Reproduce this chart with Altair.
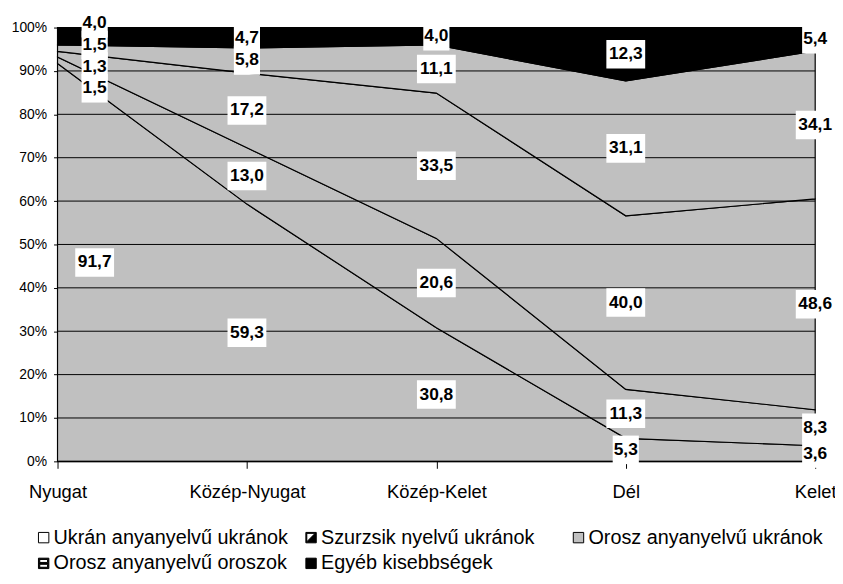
import altair as alt
import pandas as pd

# ---- data ----
regions = ["Nyugat", "Közép-Nyugat", "Közép-Kelet", "Dél", "Kelet"]
series = [
    "Ukrán anyanyelvű ukránok",
    "Szurzsik nyelvű ukránok",
    "Orosz anyanyelvű ukránok",
    "Orosz anyanyelvű oroszok",
    "Egyéb kisebbségek",
]
ukr_ukr = [91.7, 59.3, 30.8, 5.3, 3.6]
szurzsik = [1.5, 13.0, 20.6, 11.3, 8.3]
orosz_ukr = [1.3, 17.2, 33.5, 40.0, 48.6]
orosz_orosz = [1.5, 5.8, 11.1, 31.1, 34.1]
egyeb = [4.0, 4.7, 4.0, 12.3, 5.4]
y_ticks = [0, 10, 20, 30, 40, 50, 60, 70, 80, 90, 100]

values = [ukr_ukr, szurzsik, orosz_ukr, orosz_orosz, egyeb]

# ---- styles ----
FONT = "Liberation Sans"
area_colors = ["#C0C0C0", "#C0C0C0", "#C0C0C0", "#C0C0C0", "#000000"]
legend_fills = ["white", "black", "#C0C0C0", "black", "black"]
legend_strokes = ["black", "black", "black", "black", "black"]
SQ = "M-1,-1L1,-1L1,1L-1,1Z"
legend_paths = [
    SQ,
    SQ + "M-0.82,-0.82L-0.82,0.78L0.78,-0.82Z",
    SQ,
    SQ + "M-0.75,-0.75L-0.75,-0.18L0.75,-0.18L0.75,-0.75Z" + "M-0.75,0.18L-0.75,0.75L0.75,0.75L0.75,0.18Z",
    SQ,
]


def spread(mids, gap, top):
    """Push overlapping label positions apart (keeps cluster centred)."""
    order = sorted(range(len(mids)), key=lambda i: mids[i])

    def layout(cl):
        c = sum(mids[i] for i in cl) / len(cl)
        n = len(cl)
        pos = [c + (k - (n - 1) / 2) * gap for k in range(n)]
        over = pos[-1] - top
        if over > 0:
            pos = [p - over for p in pos]
        return pos

    clusters = [[i] for i in order]
    merged = True
    while merged:
        merged = False
        for j in range(len(clusters) - 1):
            a, b = layout(clusters[j]), layout(clusters[j + 1])
            if b[0] - a[-1] < gap - 1e-9:
                clusters[j] = clusters[j] + clusters[j + 1]
                del clusters[j + 1]
                merged = True
                break
    out = [0.0] * len(mids)
    for cl in clusters:
        for i, p in zip(cl, layout(cl)):
            out[i] = p
    return out


rows = []
for r_i, reg in enumerate(regions):
    col = [v[r_i] for v in values]
    mids, cum = [], 0.0
    for v in col:
        mids.append(cum + v / 2)
        cum += v
    ys = spread(mids, 5.0, 101.0)
    for s_i, s in enumerate(series):
        lab = f"{col[s_i]:.1f}".replace(".", ",")
        side = "L" if r_i == 0 else "M"
        rows.append(
            dict(region=reg, series=s, value=col[s_i], idx=s_i, label=lab,
                 label_y=ys[s_i], key=side + ("4" if len(lab) >= 4 else "3"))
        )
df = pd.DataFrame(rows)

xs = alt.Scale(type="point", domain=regions, padding=0)
ys_scale = alt.Scale(domain=[0, 100], nice=False, zero=True)

x_axis = alt.Axis(labelAngle=0, labelFont=FONT, labelFontSize=18.5, labelColor="black",
                  tickColor="black", tickSize=7, domainColor="black", domainWidth=1,
                  labelPadding=14, grid=False, title=None)
y_axis = alt.Axis(values=y_ticks, labelExpr="datum.value + '%'", labelFont=FONT,
                  labelFontSize=14, labelColor="black", tickColor="black", tickSize=4,
                  domainColor="black", domainWidth=1, labelPadding=7, grid=False, title=None)


def X():
    return alt.X("region:N", scale=xs, axis=x_axis, title=None)


def Y(field, **kw):
    return alt.Y(field, scale=ys_scale, axis=y_axis, title=None, **kw)


area = alt.Chart(df).mark_area(stroke="black", strokeWidth=1.2, opacity=1, interpolate="linear").encode(
    x=X(),
    y=Y("value:Q", stack="zero"),
    color=alt.Color("series:N", scale=alt.Scale(domain=series, range=area_colors), legend=None),
    order=alt.Order("idx:Q", sort="ascending"),
)

grid = alt.Chart(pd.DataFrame({"tick": y_ticks})).mark_rule(color="black", strokeWidth=1).encode(
    y=Y("tick:Q")
)

UNIT_HH = 0.72


def box_path(hw, shift):
    return (f"M{shift - hw},{-UNIT_HH}L{shift + hw},{-UNIT_HH}"
            f"L{shift + hw},{UNIT_HH}L{shift - hw},{UNIT_HH}Z")


SHIFT = 1.875
box_shapes = {"L3": box_path(0.66, SHIFT), "L4": box_path(0.98, SHIFT),
              "M3": box_path(0.66, 0), "M4": box_path(0.98, 0)}

boxes = []
for k, path in box_shapes.items():
    sub = df[df["key"] == k]
    boxes.append(
        alt.Chart(sub).mark_point(filled=True, color="white", opacity=1, size=1600,
                                  strokeWidth=0, shape=path).encode(
            x=X(), y=Y("label_y:Q"),
        )
    )

texts = []
for side, dx in (("L", 37.5), ("M", 0)):
    sub = df[df["key"].str.startswith(side)]
    texts.append(
        alt.Chart(sub).mark_text(font=FONT, fontWeight="bold", fontSize=17.5, color="black",
                                 align="center", baseline="middle", dx=dx).encode(
            x=X(), y=Y("label_y:Q"), text="label:N",
        )
    )

legend_kw = dict(title=None, orient="none", direction="horizontal", legendX=-24, legendY=505,
                 columns=3, gridAlign="all", columnPadding=13, rowPadding=6, labelFont=FONT,
                 labelFontSize=20, labelColor="black", labelOffset=0, labelLimit=400,
                 symbolSize=110, symbolStrokeWidth=1, symbolOpacity=1, padding=0)

# legend-only layer: drawn first, hidden under the areas
legend_layer = alt.Chart(pd.DataFrame({"series": series})).mark_point(
    filled=True, opacity=1, size=81, strokeWidth=1
).encode(
    fill=alt.Fill("series:N", scale=alt.Scale(domain=series, range=legend_fills),
                  legend=alt.Legend(**legend_kw)),
    stroke=alt.Stroke("series:N", scale=alt.Scale(domain=series, range=legend_strokes),
                      legend=alt.Legend(**legend_kw)),
    shape=alt.Shape("series:N", scale=alt.Scale(domain=series, range=legend_paths),
                    legend=alt.Legend(**legend_kw)),
)

chart = alt.layer(legend_layer, area, grid, *boxes, *texts).properties(
    width=765, height=438,
    autosize=alt.AutoSizeParams(type="none"),
    padding={"left": 50, "top": 17, "right": 20, "bottom": 113},
).configure_view(strokeWidth=0)

chart.save("out.html", embed_options={"renderer": "svg", "actions": False})
